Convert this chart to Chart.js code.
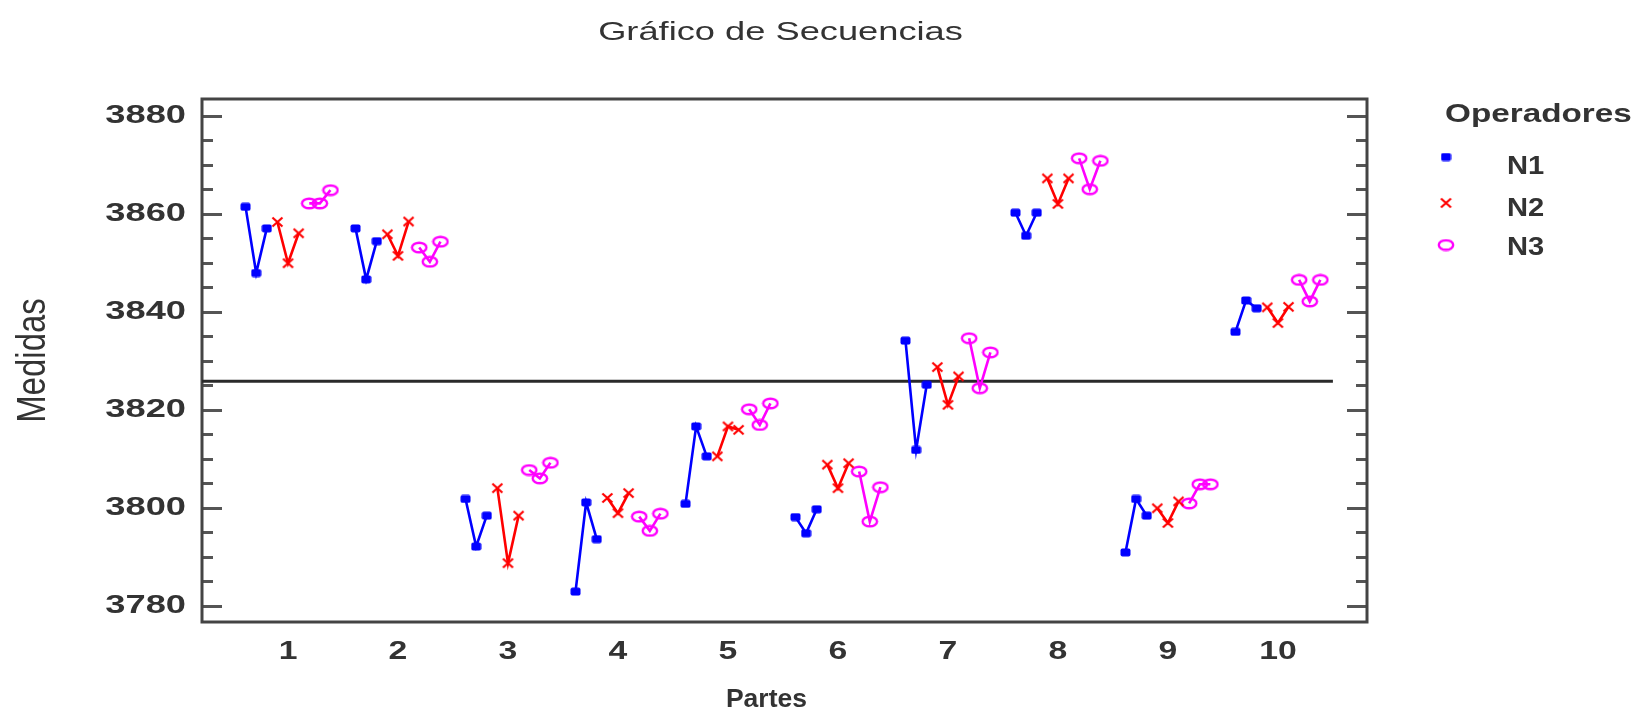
<!DOCTYPE html>
<html>
<head>
<meta charset="utf-8">
<script src="https://cdn.jsdelivr.net/npm/chart.js@4.4.1/dist/chart.umd.min.js"></script>
<style>
  html, body { margin: 0; padding: 0; background: #ffffff; }
  #wrap { width: 1640px; height: 713px; }
</style>
</head>
<body>
<div id="wrap"><canvas id="chart" width="1640" height="713"></canvas></div>
<script>
// Parts measured (x axis categories)
const partes = ['1', '2', '3', '4', '5', '6', '7', '8', '9', '10'];

// Three repeated measurements per part, one array per operator
const medidasN1 = [
  [3861.4, 3847.9, 3857.0], [3857.0, 3846.6, 3854.4], [3801.8, 3792.1, 3798.4],
  [3782.9, 3801.1, 3793.6], [3800.8, 3816.6, 3810.5], [3798.1, 3794.8, 3799.7],
  [3834.1, 3811.8, 3825.1], [3860.2, 3855.5, 3860.2], [3790.9, 3801.8, 3798.4],
  [3835.9, 3842.3, 3840.7]
];
const medidasN2 = [
  [3858.3, 3849.9, 3856.0], [3855.8, 3851.4, 3858.4], [3804.0, 3788.7, 3798.4],
  [3802.0, 3798.9, 3803.0], [3810.5, 3816.6, 3815.9], [3808.8, 3804.0, 3809.1],
  [3828.7, 3821.0, 3826.8], [3867.2, 3862.0, 3867.2], [3799.9, 3796.9, 3801.3],
  [3840.9, 3837.7, 3841.0]
];
const medidasN3 = [
  [3862.1, 3862.1, 3864.8], [3853.1, 3850.2, 3854.3], [3807.7, 3806.0, 3809.2],
  [3798.2, 3795.3, 3798.8], [3820.1, 3816.9, 3821.3], [3807.4, 3797.2, 3804.2],
  [3834.6, 3824.4, 3831.7], [3871.3, 3865.0, 3870.8], [3800.9, 3804.8, 3804.8],
  [3846.5, 3842.1, 3846.5]
];

const operadores = ['N1', 'N2', 'N3'];
const yTicks = [3780, 3800, 3820, 3840, 3860, 3880];
const yMinorStep = 5;

// Layout / style constants
const X_MIN = 0.218, X_MAX = 10.81;
const Y_MIN = 3776.7, Y_MAX = 3883.4;
const POINT_STEP = 0.0965;        // spacing between consecutive readings inside a part
const MEAN_END = 10.5;            // the centre line stops here
const TEXT_COLOR = '#333333';
const FONT = '"Liberation Sans", Arial, sans-serif';

// ---- marker images -------------------------------------------------------
function makeMarker(kind, color) {
  const c = document.createElement('canvas');
  const g = c.getContext('2d');
  if (kind === 'square') {
    c.width = 11; c.height = 9;
    g.fillStyle = color;
    g.beginPath();
    g.roundRect(0.5, 0.5, 10, 8, 2);
    g.fill();
  } else if (kind === 'cross') {
    c.width = 13; c.height = 12;
    g.strokeStyle = color; g.lineWidth = 2.2;
    g.beginPath();
    g.moveTo(1.5, 1.5); g.lineTo(11.5, 10.5);
    g.moveTo(11.5, 1.5); g.lineTo(1.5, 10.5);
    g.stroke();
  } else {
    c.width = 18; c.height = 13;
    g.strokeStyle = color; g.lineWidth = 2.4;
    g.beginPath();
    g.ellipse(9, 6.5, 7.2, 4.8, 0, 0, Math.PI * 2);
    g.stroke();
  }
  return c;
}

const colores = ['#0000ff', '#ff0000', '#ff00ff'];
const marcadores = [
  makeMarker('square', colores[0]),
  makeMarker('cross', colores[1]),
  makeMarker('ellipse', colores[2])
];

// One dataset per operator; each part's triple is a separate run (null breaks the line)
function serie(valores, op) {
  const pts = [];
  valores.forEach((tres, i) => {
    tres.forEach((v, r) => {
      pts.push({ x: (i + 1) + (op * 3 + r - 4) * POINT_STEP, y: v });
    });
    pts.push({ x: (i + 1) + (op * 3 + 2.5 - 4) * POINT_STEP, y: null });
  });
  return pts;
}

const todas = [medidasN1, medidasN2, medidasN3];
let suma = 0, n = 0;
todas.forEach(m => m.forEach(t => t.forEach(v => { suma += v; n++; })));
const media = suma / n;

const datasets = todas.map((m, op) => ({
  label: operadores[op],
  data: serie(m, op),
  borderColor: colores[op],
  backgroundColor: colores[op],
  borderWidth: 2.6,
  pointStyle: marcadores[op],
  pointRadius: 5,
  spanGaps: false,
  tension: 0
}));

datasets.push({
  label: 'media',
  data: [{ x: X_MIN, y: media }, { x: MEAN_END, y: media }],
  borderColor: '#2a2a2a',
  borderWidth: 3,
  pointRadius: 0,
  tension: 0
});

// ---- text helper (horizontal stretch sx) ---------------------------------
function texto(ctx, str, x, y, o) {
  ctx.save();
  ctx.translate(x, y);
  if (o.rotate) { ctx.rotate(-Math.PI / 2); ctx.scale(1, o.sx || 1); }
  else ctx.scale(o.sx || 1, 1);
  ctx.font = (o.weight || 'normal') + ' ' + o.size + 'px ' + FONT;
  ctx.fillStyle = o.color || TEXT_COLOR;
  ctx.textAlign = o.align || 'center';
  ctx.textBaseline = 'middle';
  ctx.fillText(str, 0, 0);
  ctx.restore();
}

const marco = {
  id: 'marco',
  beforeDatasetsDraw(chart) {
    const { ctx, chartArea: a, scales } = chart;
    const ys = scales.y;
    ctx.save();
    ctx.strokeStyle = '#555555';
    ctx.lineWidth = 3;
    // tick marks pointing inward on both vertical sides
    for (let v = Math.ceil(Y_MIN / yMinorStep) * yMinorStep; v <= Y_MAX; v += yMinorStep) {
      const py = Math.round(ys.getPixelForValue(v)) + 0.5;
      const major = yTicks.includes(v);
      const len = major ? 20 : 11;
      ctx.beginPath();
      ctx.moveTo(a.left, py); ctx.lineTo(a.left + len, py);
      ctx.moveTo(a.right, py); ctx.lineTo(a.right - len, py);
      ctx.stroke();
    }
    ctx.strokeStyle = '#444444';
    ctx.lineWidth = 3;
    ctx.strokeRect(a.left, a.top, a.right - a.left, a.bottom - a.top);
    ctx.restore();
  },
  afterDraw(chart) {
    const { ctx, chartArea: a, scales } = chart;
    const xs = scales.x, ys = scales.y;
    // y tick labels
    yTicks.forEach(v => {
      texto(ctx, String(v), a.left - 16, ys.getPixelForValue(v),
        { size: 25, weight: 'bold', sx: 1.45, align: 'right' });
    });
    // x category labels
    partes.forEach((p, i) => {
      texto(ctx, p, xs.getPixelForValue(i + 1), a.bottom + 30,
        { size: 25, weight: 'bold', sx: 1.35 });
    });
    // titles
    texto(ctx, 'Gráfico de Secuencias', (a.left + a.right) / 2 - 4, 33,
      { size: 25, weight: 'normal', sx: 1.45 });
    texto(ctx, 'Partes', xs.getPixelForValue(5.35), a.bottom + 78,
      { size: 26, weight: 'bold', sx: 1.02 });
    texto(ctx, 'Medidas', 34, (a.top + a.bottom) / 2,
      { size: 33, weight: 'normal', sx: 1.25, rotate: true });
    // legend
    const lx = a.right + 78;
    texto(ctx, 'Operadores', lx, 115, { size: 26, weight: 'bold', sx: 1.28, align: 'left' });
    const filas = [157, 203, 245];
    const etiquetas = [167, 209, 248];
    chart.data.datasets.slice(0, 3).forEach((ds, i) => {
      const img = ds.pointStyle;
      ctx.drawImage(img, lx + 1 - img.width / 2, filas[i] - img.height / 2);
      texto(ctx, ds.label, lx + 62, etiquetas[i], { size: 26, weight: 'bold', sx: 1.12, align: 'left' });
    });
  }
};

new Chart(document.getElementById('chart'), {
  type: 'line',
  data: { datasets },
  options: {
    responsive: false,
    animation: false,
    devicePixelRatio: 1,
    layout: { padding: { left: 202, right: 273, top: 99, bottom: 91 } },
    plugins: { legend: { display: false }, title: { display: false }, tooltip: { enabled: false } },
    scales: {
      x: {
        type: 'linear', min: X_MIN, max: X_MAX,
        grid: { display: false, drawTicks: false },
        border: { display: false },
        ticks: { display: false }
      },
      y: {
        type: 'linear', min: Y_MIN, max: Y_MAX,
        grid: { display: false, drawTicks: false },
        border: { display: false },
        ticks: { display: false }
      }
    }
  },
  plugins: [marco]
});
</script>
</body>
</html>
